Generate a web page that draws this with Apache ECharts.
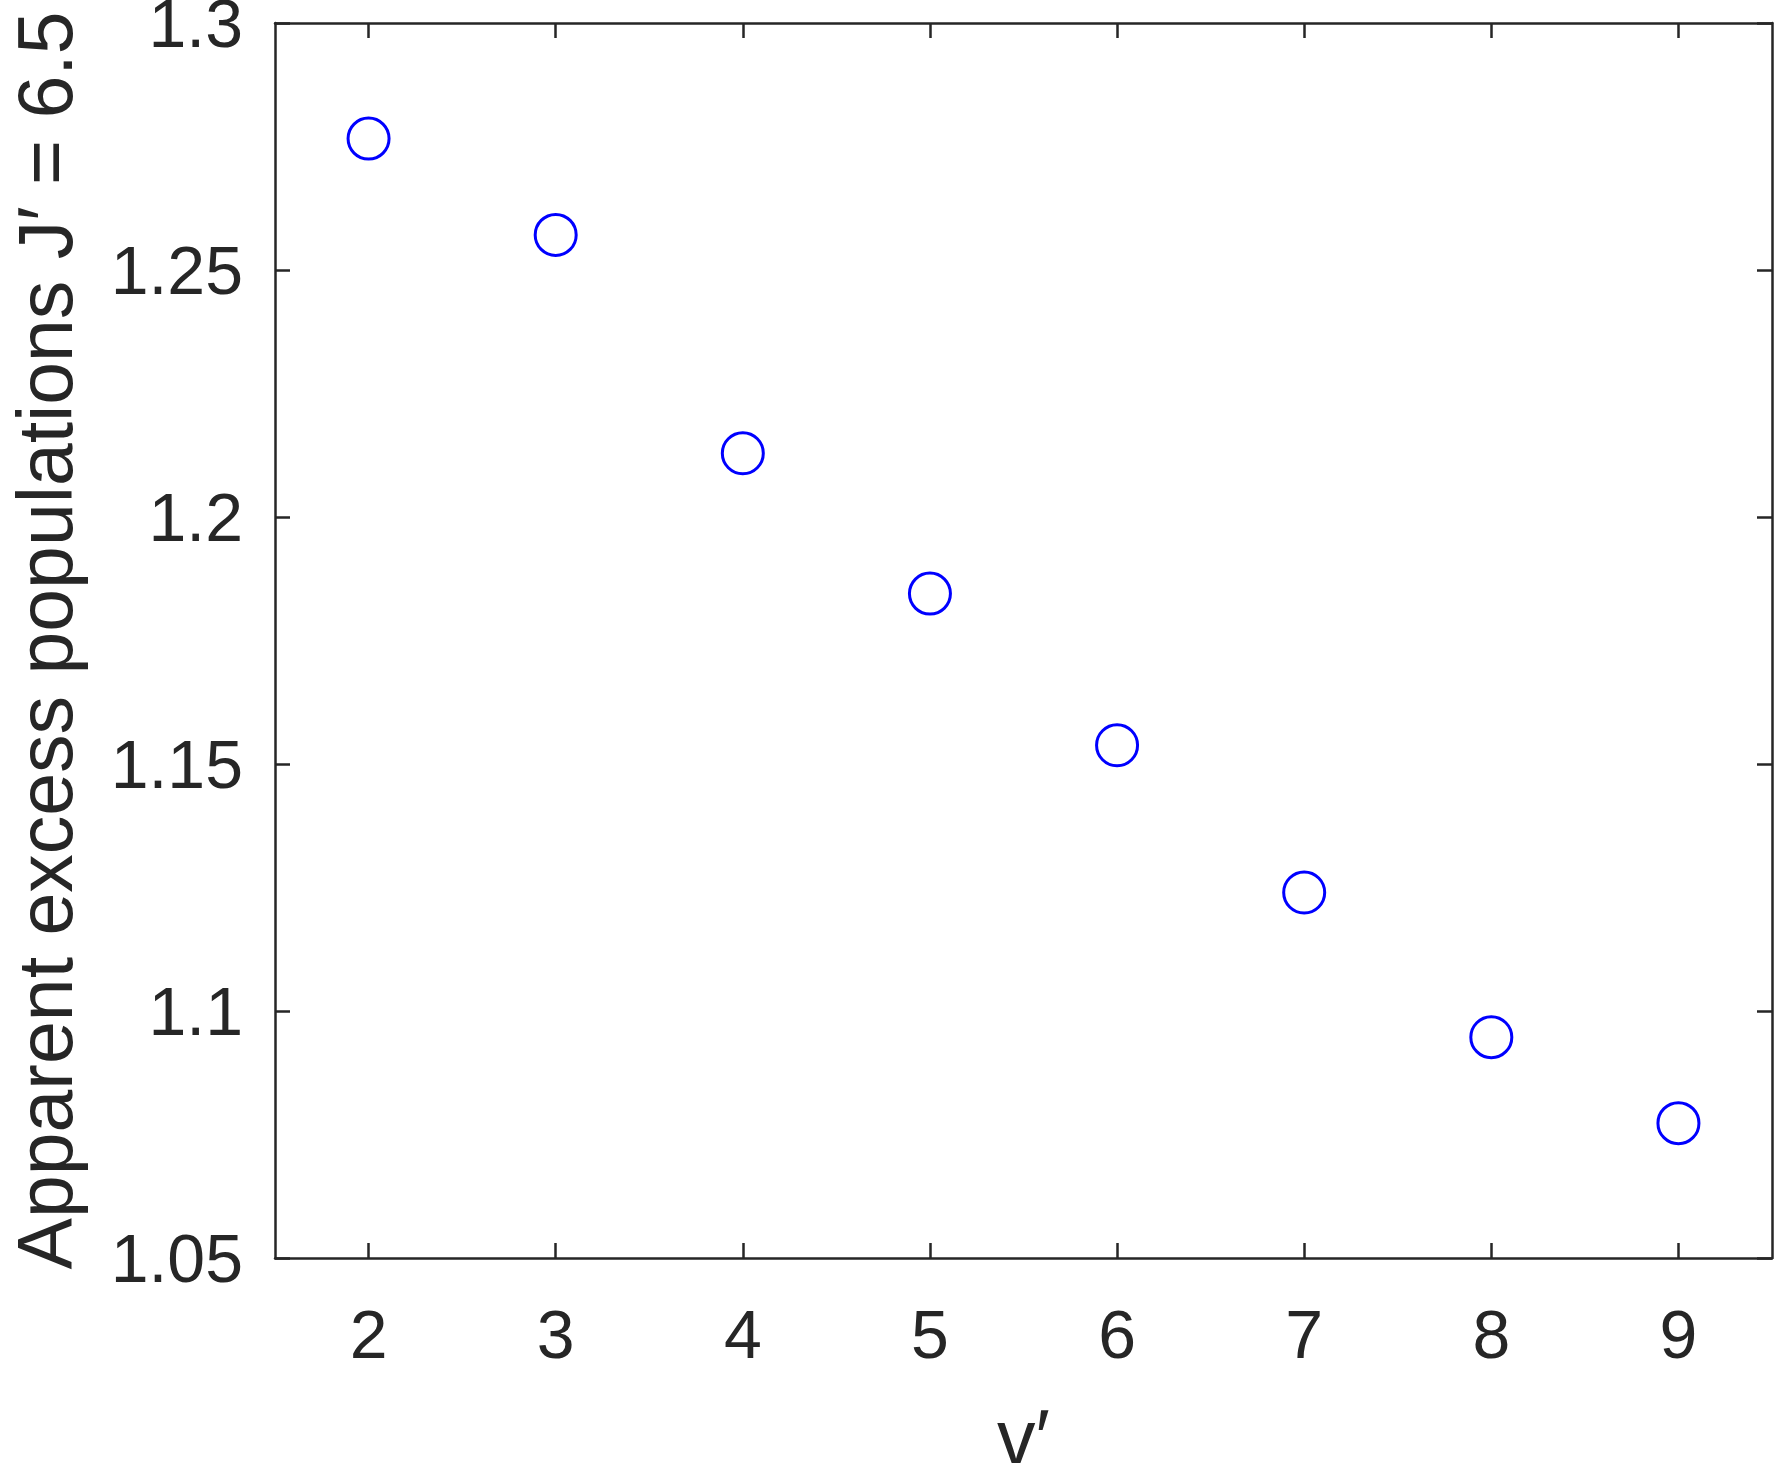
<!DOCTYPE html>
<html>
<head>
<meta charset="utf-8">
<script src="https://cdn.jsdelivr.net/npm/echarts@6/dist/echarts.min.js"></script>
<style>
html,body{margin:0;padding:0;background:#fff;}
#chart{width:1775px;height:1463px;}
</style>
</head>
<body>
<div id="chart"></div>
<script>
// Data
const vLevels = [2, 3, 4, 5, 6, 7, 8, 9];
const excessPop = [1.2766, 1.2571, 1.2129, 1.1845, 1.1538, 1.1240, 1.0947, 1.0773];
const xTicks = [2, 3, 4, 5, 6, 7, 8, 9];
const yTicks = [1.05, 1.1, 1.15, 1.2, 1.25, 1.3];
const xTitle = 'v\u2032';
const yTitle = 'Apparent excess populations J\u2032 = 6.5';

const FONT = '"Liberation Sans", Arial, Helvetica, sans-serif';
const INK = '#262626';
const axisLine = {show: true, lineStyle: {color: INK, width: 2.5}};
const tickStyle = {show: true, inside: true, length: 15, lineStyle: {color: INK, width: 2.5}};

const chart = echarts.init(document.getElementById('chart'), null, {renderer: 'canvas'});
chart.setOption({
  backgroundColor: '#fff',
  animation: false,
  grid: {left: 275, right: 3, top: 23, bottom: 205, containLabel: false, outerBoundsMode: 'none'},
  xAxis: [{
    type: 'value', min: 1.5, max: 9.5, position: 'bottom',
    name: xTitle, nameLocation: 'middle', nameGap: 146,
    nameTextStyle: {fontFamily: FONT, fontSize: 77, color: INK},
    axisLine: axisLine,
    axisTick: Object.assign({customValues: xTicks}, tickStyle),
    axisLabel: {customValues: xTicks, margin: 47, fontFamily: FONT, fontSize: 68, color: INK},
    splitLine: {show: false}
  }, {
    type: 'value', min: 1.5, max: 9.5, position: 'top',
    axisLine: axisLine,
    axisTick: Object.assign({customValues: xTicks}, tickStyle),
    axisLabel: {show: false},
    splitLine: {show: false}
  }],
  yAxis: [{
    type: 'value', min: 1.05, max: 1.3, interval: 0.05, position: 'left',
    name: yTitle, nameLocation: 'middle', nameGap: 186,
    nameTextStyle: {fontFamily: FONT, fontSize: 77, color: INK},
    axisLine: axisLine,
    axisTick: Object.assign({customValues: yTicks}, tickStyle),
    axisLabel: {customValues: yTicks, margin: 32, fontFamily: FONT, fontSize: 68, color: INK,
      verticalAlign: 'top', lineHeight: 10,
      formatter: v => String(parseFloat(Number(v).toFixed(2)))},
    splitLine: {show: false}
  }, {
    type: 'value', min: 1.05, max: 1.3, interval: 0.05, position: 'right',
    axisLine: axisLine,
    axisTick: Object.assign({customValues: yTicks}, tickStyle),
    axisLabel: {show: false},
    splitLine: {show: false}
  }],
  series: [{
    type: 'scatter',
    xAxisIndex: 0, yAxisIndex: 0,
    data: vLevels.map((v, i) => [v, excessPop[i]]),
    symbol: 'circle',
    symbolSize: 41,
    itemStyle: {color: '#ffffff', borderColor: '#0000ff', borderWidth: 3, opacity: 1}
  }]
});
</script>
</body>
</html>
